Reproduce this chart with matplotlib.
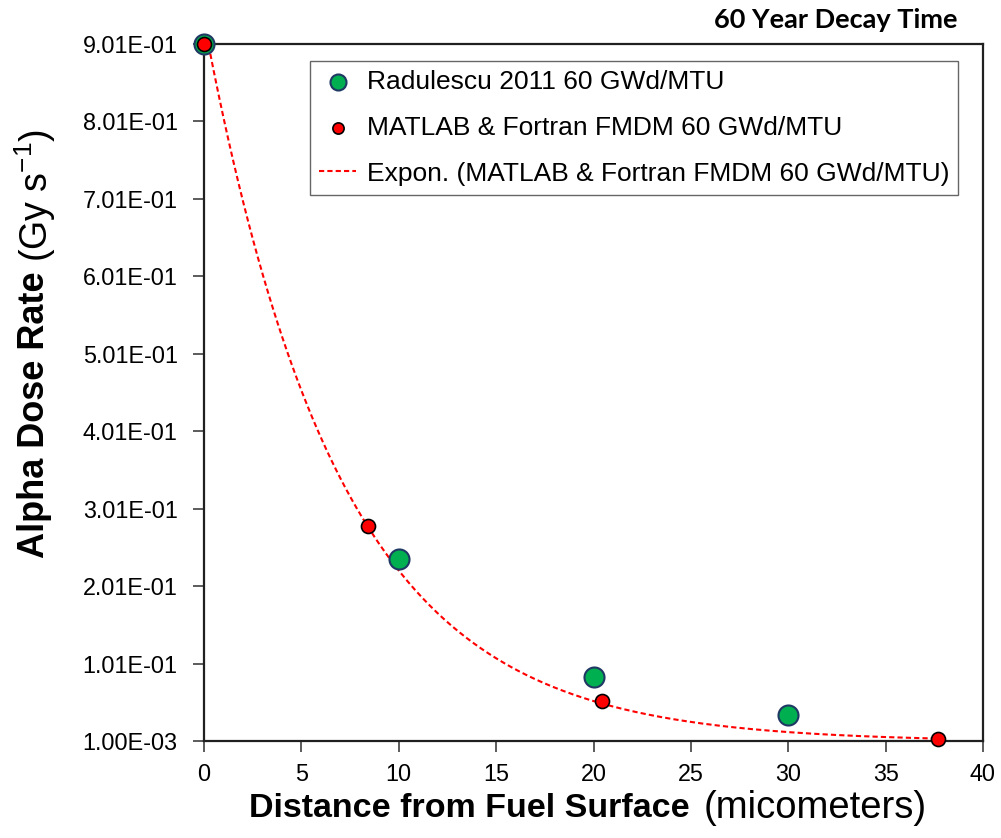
import numpy as np
import matplotlib
matplotlib.use("Agg")
import matplotlib.pyplot as plt
from matplotlib.ticker import FixedLocator, FuncFormatter

plt.rcParams['font.family'] = ['Liberation Sans', 'DejaVu Sans']
plt.rcParams['mathtext.fontset'] = 'custom'
plt.rcParams['mathtext.rm'] = 'Liberation Sans'

# Alpha dose rate vs. distance from fuel surface (60 GWd/MTU, 60 years decay)
radulescu_x = [0, 10, 20, 30]
radulescu_y = [0.901, 0.236, 0.084, 0.035]

fmdm_x = [0, 8.44, 20.43, 37.7]
fmdm_y = [0.901, 0.279, 0.0523, 0.004]

y_ticks = [0.001, 0.101, 0.201, 0.301, 0.401, 0.501, 0.601, 0.701, 0.801, 0.901]
x_ticks = [0, 5, 10, 15, 20, 25, 30, 35, 40]

# Exponential trendline fitted to the FMDM series (least squares on ln y)
b, ln_a = np.polyfit(fmdm_x, np.log(fmdm_y), 1)
trend_x = np.linspace(min(fmdm_x), max(fmdm_x), 300)
trend_y = np.exp(ln_a) * np.exp(b * trend_x)

W, H = 1001, 838
fig = plt.figure(figsize=(W / 100, H / 100), dpi=100)
ax = fig.add_axes([204 / W, 1 - 741 / H, (983 - 204) / W, (741 - 44) / H])

ax.plot(trend_x, trend_y, color='#FF0000', lw=1.5, ls=(0, (2.5, 1.5)), zorder=2,
        label='Expon. (MATLAB & Fortran FMDM 60 GWd/MTU)')
ax.scatter(radulescu_x, radulescu_y, s=20 ** 2 * 0.52, color='#00B050', edgecolor='#1F3864',
           linewidth=1.5, zorder=3, clip_on=False, label='Radulescu 2011 60 GWd/MTU')
ax.scatter(fmdm_x, fmdm_y, s=14 ** 2 * 0.52, color='#FF0000', edgecolor='black',
           linewidth=1.2, zorder=4, clip_on=False, label='MATLAB & Fortran FMDM 60 GWd/MTU')

ax.set_xlim(0, 40)
ax.set_ylim(0.001, 0.901)
ax.xaxis.set_major_locator(FixedLocator(x_ticks))
ax.yaxis.set_major_locator(FixedLocator(y_ticks))
ax.yaxis.set_major_formatter(FuncFormatter(lambda v, p: f"{v:.2E}"))
ax.tick_params(axis='both', direction='out', length=8, width=1.2, color='#404040',
               labelsize=16.8)
ax.tick_params(axis='y', pad=11)
ax.tick_params(axis='x', pad=8)
for s in ax.spines.values():
    s.set_linewidth(1.6)
    s.set_color('#202020')

# Axis labels: bold descriptor followed by regular-weight units
fig.text(249 / W, 1 - 808 / H, 'Distance from Fuel Surface', fontsize=24.5,
         fontweight='bold', ha='left', va='center')
fig.text(704 / W, 1 - 808 / H, '(micometers)', fontsize=27.5,
         ha='left', va='center')
fig.text(35 / W, 1 - 558 / H, 'Alpha Dose Rate', fontsize=26,
         fontweight='bold', rotation=90, ha='center', va='bottom')
fig.text(35 / W, 1 - 262 / H, r'(Gy s$^{\mathregular{-1}}$)', fontsize=27,
         rotation=90, ha='center', va='bottom')

fig.text(958 / W, 1 - 20 / H, '60 Year Decay Time', fontsize=19.5,
         fontweight='bold', family=['Lato', 'DejaVu Sans'], ha='right', va='center')

handles, labels = ax.get_legend_handles_labels()
order = [1, 2, 0]
leg = ax.legend([handles[i] for i in order], [labels[i] for i in order],
                loc='upper left', bbox_to_anchor=((310 - 204) / 779, 1 - (61 - 44) / 697),
                fontsize=19, frameon=True, fancybox=False, edgecolor='#404040',
                borderpad=0.35, labelspacing=0.82, handlelength=1.4, handletextpad=0.4,
                borderaxespad=0, markerscale=0.8)
leg.get_frame().set_linewidth(1.0)

fig.savefig('out.png', dpi=100)
